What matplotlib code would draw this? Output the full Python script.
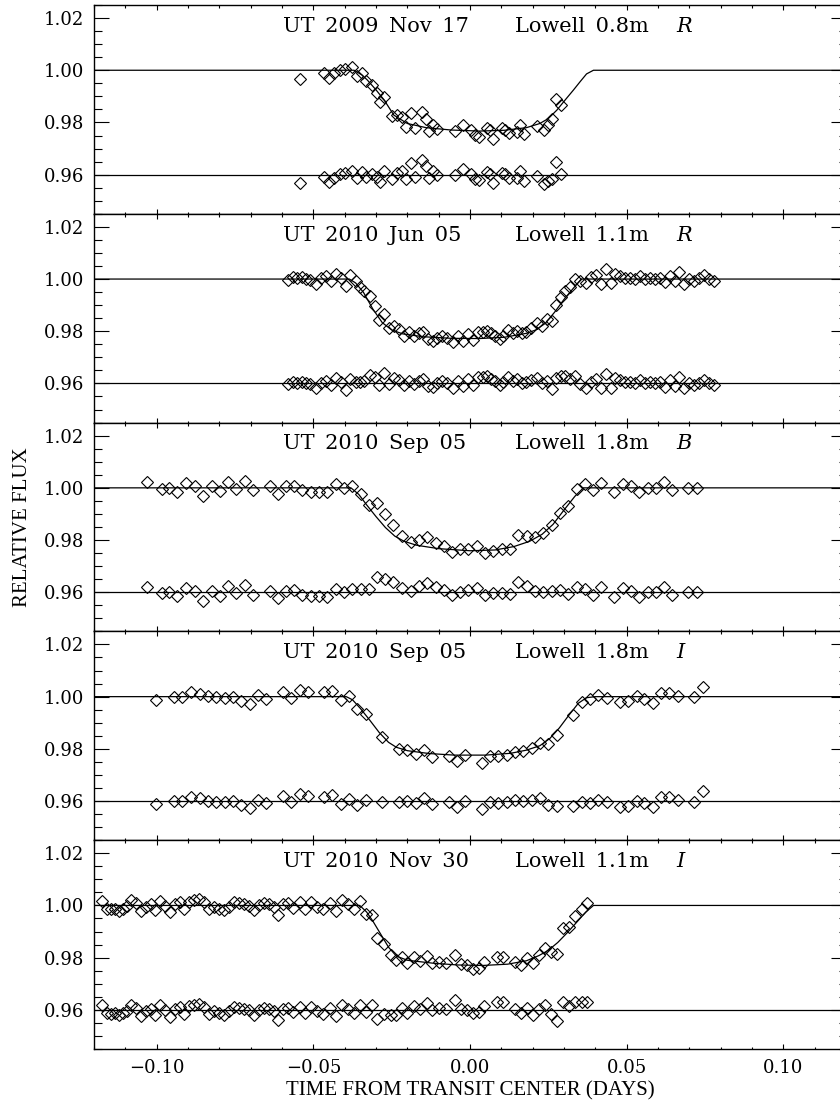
import numpy as np
import matplotlib
matplotlib.use('Agg')
import matplotlib.pyplot as plt
from matplotlib.ticker import MultipleLocator, FuncFormatter

# panel titles
dates = ['UT 2009 Nov 17', 'UT 2010 Jun 05', 'UT 2010 Sep 05', 'UT 2010 Sep 05', 'UT 2010 Nov 30']
scopes = ['Lowell 0.8m', 'Lowell 1.1m', 'Lowell 1.8m', 'Lowell 1.8m', 'Lowell 1.1m']
filters = ['R', 'R', 'B', 'I', 'I']
resid_level = 0.96   # residuals are shown offset to this level

# --- 2009 Nov 17, 0.8m R
t1 = [-0.0544, -0.0466, -0.0449, -0.0434, -0.0415, -0.0399, -0.0378, -0.0360, -0.0344, -0.0333,
      -0.0312, -0.0298, -0.0287, -0.0274, -0.0250, -0.0232, -0.0216, -0.0203, -0.0189, -0.0177,
      -0.0154, -0.0141, -0.0131, -0.0118, -0.0104, -0.0048, -0.0021, 0.0002, 0.0016, 0.0029,
      0.0053, 0.0064, 0.0074, 0.0101, 0.0112, 0.0124, 0.0149, 0.0160, 0.0173, 0.0213,
      0.0236, 0.0250, 0.0263, 0.0273, 0.0289]
f1 = [0.9967, 0.9991, 0.9971, 0.9988, 1.0001, 1.0005, 1.0014, 0.9979, 0.9991, 0.9959,
      0.9942, 0.9914, 0.9879, 0.9899, 0.9826, 0.9828, 0.9822, 0.9783, 0.9837, 0.9779,
      0.9841, 0.9812, 0.9767, 0.9792, 0.9774, 0.9768, 0.9790, 0.9771, 0.9751, 0.9745,
      0.9777, 0.9771, 0.9735, 0.9777, 0.9771, 0.9758, 0.9764, 0.9790, 0.9755, 0.9787,
      0.9771, 0.9790, 0.9815, 0.9891, 0.9867]
m1_t = [-0.12, -0.0370, -0.0345, -0.0328, -0.0300, -0.0274, -0.0243, -0.0200, -0.0140, -0.0060, 0.0030,
        0.0110, 0.0180, 0.0223, 0.0250, 0.0277, 0.0305, 0.0330, 0.0352, 0.0372, 0.0394, 0.12]
m1_f = [1.0, 1.0, 0.9982, 0.9963, 0.9925, 0.9886, 0.9828, 0.9796, 0.9780, 0.9771, 0.9767,
        0.9770, 0.9780, 0.9796, 0.9815, 0.9847, 0.9888, 0.9924, 0.9957, 0.9986, 1.0, 1.0]

# --- 2010 Jun 05, 1.1m R
t2 = [-0.0580, -0.0564, -0.0551, -0.0537, -0.0524, -0.0511, -0.0493, -0.0477, -0.0461, -0.0445,
      -0.0429, -0.0413, -0.0397, -0.0383, -0.0365, -0.0351, -0.0338, -0.0319, -0.0304, -0.0290,
      -0.0274, -0.0258, -0.0243, -0.0228, -0.0211, -0.0195, -0.0179, -0.0163, -0.0149, -0.0133,
      -0.0118, -0.0104, -0.0088, -0.0072,
      -0.0053, -0.0037, -0.0021, -0.0005, 0.0011, 0.0027, 0.0040, 0.0053, 0.0066, 0.0080,
      0.0096, 0.0106, 0.0120, 0.0136, 0.0151, 0.0165, 0.0179, 0.0194, 0.0213, 0.0229,
      0.0245, 0.0261, 0.0274, 0.0289, 0.0303, 0.0319, 0.0335, 0.0351, 0.0369, 0.0385,
      0.0401, 0.0417, 0.0433, 0.0449, 0.0463, 0.0479, 0.0495, 0.0511, 0.0527, 0.0543,
      0.0559, 0.0574, 0.0590, 0.0606, 0.0622, 0.0638, 0.0654, 0.0668, 0.0683, 0.0700,
      0.0716, 0.0732, 0.0748, 0.0764, 0.0780]
f2 = [0.9996, 1.0006, 1.0003, 1.0006, 1.0000, 0.9996, 0.9981, 1.0003, 1.0010, 0.9994,
      1.0019, 1.0004, 0.9973, 1.0015, 0.9991, 0.9971, 0.9955, 0.9936, 0.9898, 0.9843,
      0.9866, 0.9811, 0.9821, 0.9808, 0.9783, 0.9796, 0.9783, 0.9792, 0.9796, 0.9770,
      0.9764, 0.9776, 0.9783, 0.9776,
      0.9757, 0.9783, 0.9764, 0.9789, 0.9766, 0.9796, 0.9799, 0.9802, 0.9792, 0.9783,
      0.9770, 0.9783, 0.9804, 0.9792, 0.9802, 0.9792, 0.9799, 0.9812, 0.9830, 0.9821,
      0.9847, 0.9840, 0.9902, 0.9932, 0.9955, 0.9968, 1.0000, 0.9994, 0.9983, 1.0006,
      1.0017, 0.9981, 1.0038, 0.9983, 1.0019, 1.0013, 1.0004, 1.0004, 1.0000, 1.0013,
      1.0000, 1.0004, 1.0000, 1.0004, 0.9987, 1.0013, 0.9991, 1.0026, 0.9981, 1.0000,
      0.9994, 1.0003, 1.0015, 1.0000, 0.9994]
m2_t = [-0.12, -0.0385, -0.0365, -0.0340, -0.0310, -0.0280, -0.0250, -0.0215, -0.0150, -0.0060,
        0.0030, 0.0110, 0.0180, 0.0210, 0.0240, 0.0270, 0.0300, 0.0330, 0.0355, 0.12]
m2_f = [1.0, 1.0, 0.9985, 0.9949, 0.9885, 0.9833, 0.9805, 0.9790, 0.9779, 0.9773,
        0.9772, 0.9777, 0.9792, 0.9805, 0.9830, 0.9873, 0.9922, 0.9965, 1.0, 1.0]

# --- 2010 Sep 05, 1.8m B
t3 = [-0.1030, -0.0982, -0.0961, -0.0934, -0.0907, -0.0878, -0.0851, -0.0824, -0.0799, -0.0772,
      -0.0746, -0.0719, -0.0693, -0.0639, -0.0613, -0.0588, -0.0562, -0.0535, -0.0509, -0.0482,
      -0.0455, -0.0429, -0.0402, -0.0376, -0.0349, -0.0322, -0.0296, -0.0271, -0.0245, -0.0216,
      -0.0189, -0.0163, -0.0136, -0.0110, -0.0083,
      -0.0059, -0.0032, -0.0005, 0.0021, 0.0048, 0.0074, 0.0101, 0.0128, 0.0154, 0.0181,
      0.0207, 0.0234, 0.0261, 0.0287, 0.0314, 0.0340, 0.0367, 0.0391, 0.0418, 0.0460,
      0.0487, 0.0514, 0.0540, 0.0567, 0.0594, 0.0619, 0.0646, 0.0697, 0.0726]
f3 = [1.0022, 0.9997, 1.0000, 0.9985, 1.0017, 1.0006, 0.9968, 1.0006, 0.9987, 1.0023,
      0.9997, 1.0026, 0.9990, 1.0006, 0.9978, 1.0006, 1.0009, 0.9991, 0.9985, 0.9985,
      0.9983, 1.0013, 1.0000, 1.0009, 0.9978, 0.9936, 0.9942, 0.9900, 0.9859, 0.9817,
      0.9792, 0.9802, 0.9811, 0.9789, 0.9776,
      0.9753, 0.9764, 0.9767, 0.9776, 0.9751, 0.9757, 0.9764, 0.9764, 0.9821, 0.9815,
      0.9811, 0.9827, 0.9859, 0.9904, 0.9930, 0.9994, 1.0013, 0.9990, 1.0019, 0.9983,
      1.0015, 1.0006, 0.9983, 1.0000, 1.0000, 1.0022, 0.9990, 1.0000, 1.0000]
m3_t = [-0.12, -0.0380, -0.0355, -0.0330, -0.0300, -0.0270, -0.0240, -0.0210, -0.0170, -0.0100,
        0.0000, 0.0080, 0.0140, 0.0190, 0.0230, 0.0265, 0.0300, 0.0335, 0.0362, 0.12]
m3_f = [1.0, 1.0, 0.9975, 0.9935, 0.9890, 0.9848, 0.9815, 0.9795, 0.9780, 0.9767,
        0.9759, 0.9762, 0.9775, 0.9795, 0.9822, 0.9860, 0.9915, 0.9968, 1.0, 1.0]

# --- 2010 Sep 05, 1.8m I
t4 = [-0.1001, -0.0945, -0.0918, -0.0891, -0.0863, -0.0836, -0.0810, -0.0783, -0.0755, -0.0730,
      -0.0703, -0.0677, -0.0650, -0.0597, -0.0570, -0.0544, -0.0517, -0.0466, -0.0439, -0.0413,
      -0.0386, -0.0360, -0.0333, -0.0280, -0.0227, -0.0200, -0.0173, -0.0147, -0.0120, -0.0067,
      -0.0043, -0.0016, 0.0037, 0.0064, 0.0090, 0.0117, 0.0144, 0.0170, 0.0197, 0.0223,
      0.0250, 0.0277, 0.0330, 0.0356, 0.0383, 0.0410, 0.0436, 0.0479, 0.0505, 0.0532,
      0.0556, 0.0583, 0.0610, 0.0636, 0.0663, 0.0716, 0.0743]
f4 = [0.9989, 0.9999, 0.9999, 1.0017, 1.0010, 1.0001, 0.9997, 0.9995, 0.9999, 0.9985,
      0.9973, 1.0005, 0.9992, 1.0018, 0.9995, 1.0027, 1.0018, 1.0017, 1.0023, 0.9989,
      1.0001, 0.9954, 0.9934, 0.9846, 0.9800, 0.9794, 0.9782, 0.9795, 0.9769, 0.9772,
      0.9755, 0.9776, 0.9747, 0.9772, 0.9772, 0.9778, 0.9789, 0.9791, 0.9804, 0.9823,
      0.9819, 0.9852, 0.9931, 0.9978, 0.9992, 1.0005, 0.9995, 0.9978, 0.9982, 1.0001,
      0.9991, 0.9976, 1.0014, 1.0014, 1.0004, 0.9997, 1.0037]
m4_t = [-0.12, -0.0395, -0.0375, -0.0350, -0.0320, -0.0290, -0.0260, -0.0235, -0.0200, -0.0130, -0.0050,
        0.0050, 0.0130, 0.0180, 0.0223, 0.0255, 0.0285, 0.0315, 0.0346, 0.0372, 0.0400, 0.12]
m4_f = [1.0, 1.0, 0.9988, 0.9955, 0.9910, 0.9863, 0.9825, 0.9806, 0.9793, 0.9782, 0.9776,
        0.9776, 0.9783, 0.9795, 0.9812, 0.9840, 0.9880, 0.9928, 0.9975, 0.9996, 1.0, 1.0]

# --- 2010 Nov 30, 1.1m I
t5 = [-0.1173, -0.1160, -0.1147, -0.1133, -0.1120, -0.1109, -0.1096, -0.1083, -0.1067, -0.1051,
      -0.1035, -0.1019, -0.1005, -0.0989, -0.0973, -0.0957, -0.0943, -0.0927, -0.0913, -0.0897,
      -0.0881, -0.0865, -0.0849, -0.0833, -0.0817, -0.0801, -0.0785, -0.0769, -0.0753, -0.0737,
      -0.0721, -0.0705, -0.0689, -0.0673, -0.0657, -0.0641, -0.0626, -0.0613, -0.0596, -0.0581,
      -0.0565, -0.0544, -0.0528, -0.0506, -0.0487, -0.0468, -0.0447, -0.0427, -0.0407, -0.0388,
      -0.0370, -0.0352, -0.0331, -0.0312, -0.0296, -0.0274, -0.0253, -0.0237, -0.0216, -0.0200,
      -0.0179, -0.0160, -0.0138, -0.0120, -0.0099, -0.0078,
      -0.0048, -0.0029, -0.0011, 0.0011, 0.0030, 0.0046, 0.0085, 0.0104, 0.0144, 0.0163,
      0.0183, 0.0202, 0.0220, 0.0239, 0.0259, 0.0279, 0.0298, 0.0317, 0.0335, 0.0356, 0.0372]
f5 = [1.0017, 0.9988, 0.9985, 0.9988, 0.9980, 0.9988, 0.9997, 1.0020, 1.0008, 0.9978,
      0.9995, 1.0004, 0.9982, 1.0017, 0.9999, 0.9973, 1.0004, 1.0012, 0.9985, 1.0014,
      1.0020, 1.0024, 1.0012, 0.9986, 0.9995, 0.9988, 0.9982, 0.9995, 1.0012, 1.0008,
      1.0004, 0.9999, 0.9982, 1.0001, 1.0008, 1.0004, 0.9995, 0.9963, 1.0004, 1.0008,
      0.9992, 1.0012, 0.9988, 1.0012, 0.9995, 0.9985, 1.0008, 0.9978, 1.0020, 1.0004,
      0.9988, 1.0018, 0.9969, 0.9963, 0.9876, 0.9854, 0.9810, 0.9790, 0.9803, 0.9778,
      0.9803, 0.9788, 0.9806, 0.9778, 0.9784, 0.9778,
      0.9810, 0.9774, 0.9771, 0.9758, 0.9761, 0.9784, 0.9803, 0.9803, 0.9784, 0.9771,
      0.9797, 0.9780, 0.9810, 0.9838, 0.9822, 0.9813, 0.9912, 0.9918, 0.9960, 0.9985, 1.0008]
m5_t = [-0.12, -0.0352, -0.0330, -0.0310, -0.0285, -0.0260, -0.0235, -0.0200, -0.0120, -0.0040,
        0.0040, 0.0120, 0.0180, 0.0220, 0.0250, 0.0280, 0.0310, 0.0340, 0.0370, 0.0394, 0.12]
m5_f = [1.0, 1.0, 0.9975, 0.9940, 0.9890, 0.9840, 0.9806, 0.9790, 0.9779, 0.9772,
        0.9770, 0.9775, 0.9788, 0.9808, 0.9828, 0.9858, 0.9895, 0.9935, 0.9975, 1.0, 1.0]

panels = [(t1, f1, m1_t, m1_f), (t2, f2, m2_t, m2_f), (t3, f3, m3_t, m3_f),
          (t4, f4, m4_t, m4_f), (t5, f5, m5_t, m5_f)]

plt.rcParams['font.family'] = 'DejaVu Serif'
fig = plt.figure(figsize=(8.4, 11.04), dpi=100)
W, H = 840.0, 1104.0
left_px, right_px = 94, 846   # right spine falls just off the page, like the original
top_px, ph = 5, 208.8
SP = '\u2002'  # wide gap between words, as in the original titles

def minus_fmt(v, pos):
    return ('%.2f' % v).replace('-', '\u2212')

for k, (t, f, mt, mf) in enumerate(panels):
    t = np.array(t)
    f = np.array(f)
    y0 = top_px + k * ph
    ax = fig.add_axes([left_px / W, 1 - (y0 + ph) / H, (right_px - left_px) / W, ph / H])

    ax.plot(mt, mf, color='k', lw=0.9)
    ax.axhline(resid_level, color='k', lw=0.9)
    resid = f - np.interp(t, mt, mf) + resid_level
    for yy in (f, resid):
        ax.plot(t, yy, 'D', ms=6.2, mfc='none', mec='k', mew=0.8)

    ax.set_xlim(-0.12, 0.12)
    ax.set_ylim(0.945, 1.025)
    ax.xaxis.set_major_locator(MultipleLocator(0.05))
    ax.xaxis.set_minor_locator(MultipleLocator(0.01))
    ax.yaxis.set_major_locator(MultipleLocator(0.02))
    ax.yaxis.set_minor_locator(MultipleLocator(0.005))
    ax.yaxis.set_major_formatter(FuncFormatter(lambda v, p: '%.2f' % v))
    ax.xaxis.set_major_formatter(FuncFormatter(minus_fmt))
    ax.tick_params(which='both', direction='in', top=True, right=True, width=0.8,
                   labelsize=13, pad=7)
    ax.tick_params(axis='y', which='major', length=10.8)
    ax.tick_params(axis='y', which='minor', length=5.4)
    ax.tick_params(axis='x', which='major', length=3.6)
    ax.tick_params(axis='x', which='minor', length=1.8)
    if k < len(panels) - 1:
        ax.tick_params(axis='x', labelbottom=False)
    for s in ax.spines.values():
        s.set_linewidth(1.0)

    ax.text(0.2517, 0.872, dates[k].replace(' ', SP), transform=ax.transAxes,
            fontsize=15, va='baseline')
    ax.text(0.56, 0.872, scopes[k].replace(' ', SP), transform=ax.transAxes,
            fontsize=15, va='baseline')
    ax.text(0.775, 0.872, filters[k], transform=ax.transAxes, fontsize=15,
            va='baseline', style='italic')

    if k == len(panels) - 1:
        ax.set_xlabel('TIME FROM TRANSIT CENTER (DAYS)', fontsize=15,
                      family='Liberation Serif', labelpad=3)

fig.text(0.027, 1 - (top_px + 2.5 * ph) / H, 'RELATIVE FLUX', rotation=90,
         ha='center', va='center', fontsize=15, family='Liberation Serif')

fig.savefig('out.png', dpi=100)
